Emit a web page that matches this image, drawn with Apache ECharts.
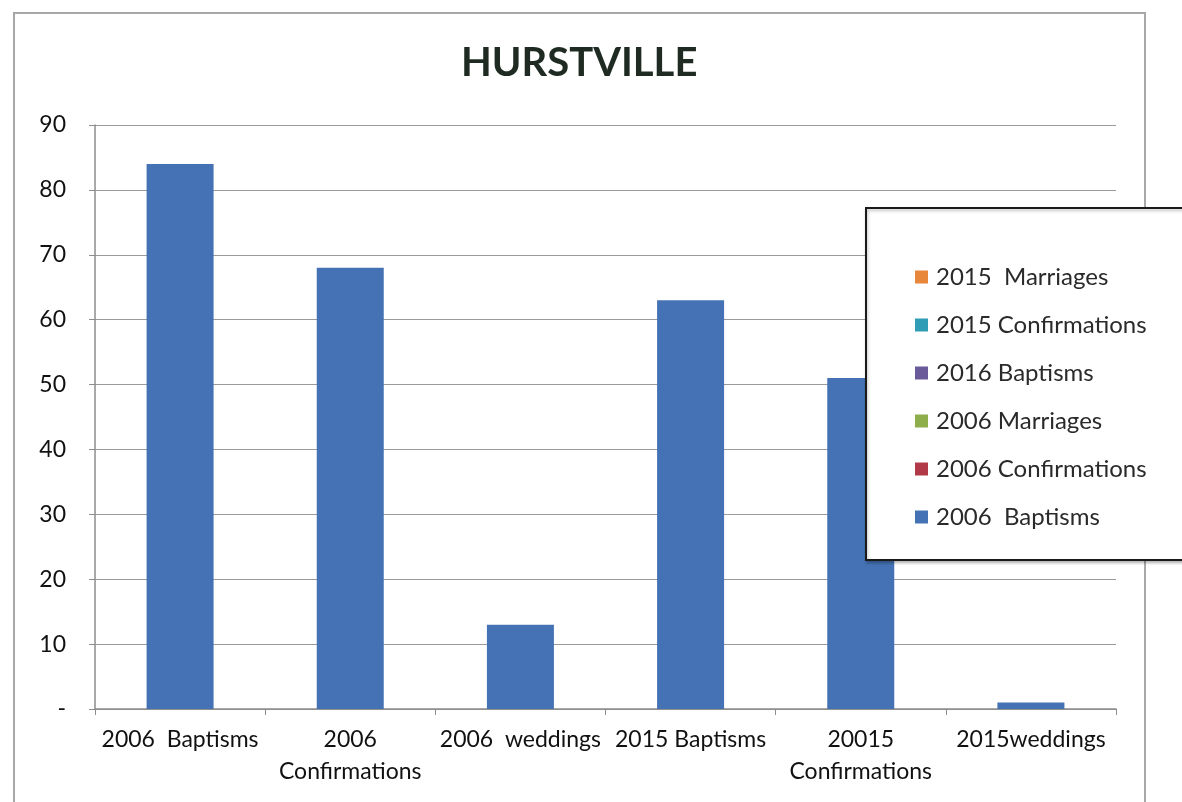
<!DOCTYPE html>
<html>
<head>
<meta charset="utf-8">
<title>HURSTVILLE</title>
<script src="https://cdn.jsdelivr.net/npm/echarts@6/dist/echarts.min.js"></script>
<style>
  html, body { margin: 0; padding: 0; background: #fff; }
  #chart { width: 1182px; height: 802px; }
</style>
</head>
<body>
<div id="chart"></div>
<script>
// Category labels along the x axis
const categories = [
  '2006  Baptisms',
  '2006\nConfirmations',
  '2006  weddings',
  '2015 Baptisms',
  '20015\nConfirmations',
  '2015weddings'
];

// Counts per category
const counts = [84, 68, 13, 63, 51, 1];

// Series names in legend order (top to bottom)
const legendNames = [
  '2015  Marriages',
  '2015 Confirmations',
  '2016 Baptisms',
  '2006 Marriages',
  '2006 Confirmations',
  '2006  Baptisms'
];

// Series colours, matching legendNames
const legendColors = ['#E8873A', '#2F9DB5', '#6A5A9A', '#8DAE4A', '#B23A48', '#4472B4'];

// Y axis tick range
const yMin = 0, yMax = 90, yStep = 10;

const FONT = 'Lato, "Open Sans", sans-serif';
const chart = echarts.init(document.getElementById('chart'));

// All counts sit on the blue series; the other series only appear in the legend
const series = legendNames.map((name, i) => ({
  name: name,
  type: 'bar',
  stack: 'all',
  barWidth: 67,
  itemStyle: { color: legendColors[i] },
  data: i === legendNames.length - 1 ? counts : categories.map(() => null)
}));

chart.setOption({
  animation: false,
  backgroundColor: '#fff',
  textStyle: { fontFamily: FONT },
  title: {
    text: 'HURSTVILLE',
    left: 456,
    top: 38,
    textStyle: { fontFamily: FONT, fontSize: 40, fontWeight: 'bold', color: '#1e2a22' }
  },
  graphic: [{
    type: 'rect',
    silent: true,
    z: -1,
    shape: { x: 14, y: 13, width: 1131, height: 820 },
    style: { fill: 'none', stroke: '#a8a8a8', lineWidth: 2 }
  }],
  grid: { left: 95, right: 66, top: 125, bottom: 93 },
  legend: {
    orient: 'vertical',
    left: 866,
    top: 208,
    data: legendNames,
    icon: 'rect',
    itemWidth: 13,
    itemHeight: 13,
    itemGap: 24,
    padding: [57, 70, 31, 49],
    backgroundColor: '#fff',
    borderColor: '#1a1a1a',
    borderWidth: 2,
    shadowColor: 'rgba(0,0,0,0.25)',
    shadowBlur: 3,
    shadowOffsetX: 1,
    shadowOffsetY: 2,
    selectedMode: false,
    textStyle: { fontFamily: FONT, fontSize: 24, lineHeight: 24, color: '#2a2a2a', padding: [0, 0, 0, 3] }
  },
  xAxis: {
    type: 'category',
    data: categories,
    axisLine: { lineStyle: { color: '#8c8c8c', width: 1.5 } },
    axisTick: { show: true, alignWithLabel: false, length: 6, lineStyle: { color: '#8c8c8c' } },
    axisLabel: {
      interval: 0,
      margin: 15,
      fontFamily: FONT,
      fontSize: 23,
      lineHeight: 32,
      color: '#111'
    }
  },
  yAxis: {
    type: 'value',
    min: yMin,
    max: yMax,
    interval: yStep,
    axisLine: { show: true, lineStyle: { color: '#8c8c8c', width: 1.5 } },
    axisTick: { show: true, length: 6, lineStyle: { color: '#8c8c8c' } },
    splitLine: { lineStyle: { color: '#9a9a9a', width: 1.2 } },
    axisLabel: {
      margin: 29,
      fontFamily: FONT,
      fontSize: 23,
      color: '#111',
      formatter: v => (v === 0 ? '-' : String(v))
    }
  },
  series: series
});
</script>
</body>
</html>
